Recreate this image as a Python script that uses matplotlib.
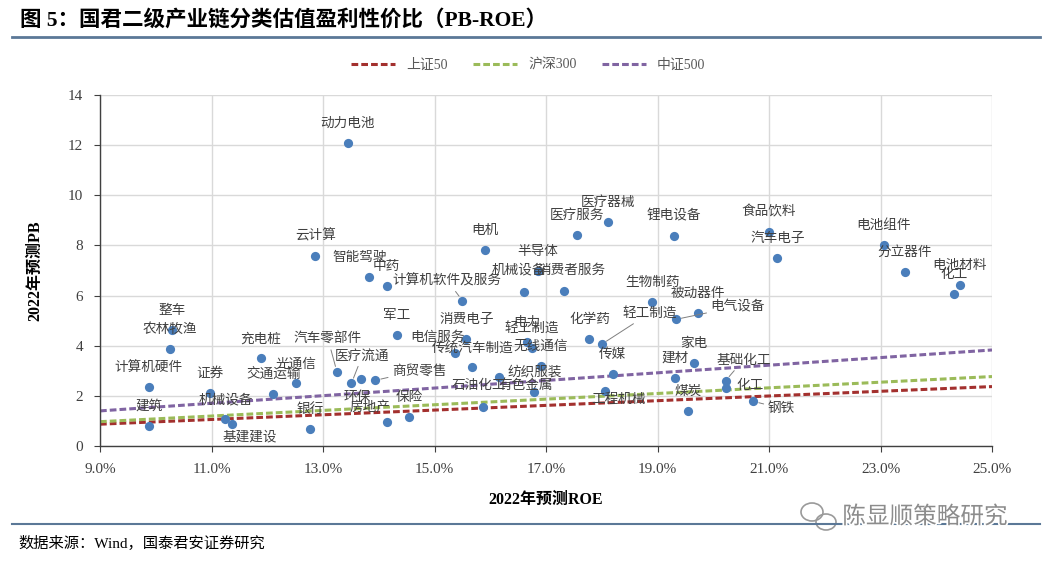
import matplotlib
matplotlib.use("Agg")
import numpy as np
import matplotlib.pyplot as plt
from matplotlib.ticker import FuncFormatter, MultipleLocator
from matplotlib.patches import Ellipse
from matplotlib.lines import Line2D
import matplotlib.patheffects as pe

plt.rcParams['font.family'] = ['Noto Sans CJK SC', 'DejaVu Sans']

# 行业名称 / 2022年预测ROE(%) / 2022年预测PB
names = ["动力电池", "整车", "农林牧渔", "计算机硬件", "建筑", "证券", "机械设备", "基建建设",
         "充电桩", "交通运输", "光通信", "银行", "汽车零部件", "医疗流通", "环保", "商贸零售",
         "房地产", "中药", "军工", "保险", "云计算", "智能驾驶", "计算机软件及服务", "电机",
         "消费电子", "电信服务", "传统汽车制造", "石油化工", "有色金属", "电力", "轻工制造",
         "无线通信", "纺织服装", "机械设备", "半导体", "消费者服务", "医疗服务", "医疗器械",
         "化学药", "轻工制造", "传媒", "工程机械", "生物制药", "锂电设备", "电气设备", "被动器件",
         "家电", "建材", "煤炭", "基础化工", "化工", "钢铁", "食品饮料", "汽车电子", "电池组件",
         "分立器件", "电池材料", "化工"]
roe = [13.44, 10.30, 10.26, 9.87, 9.88, 10.98, 11.25, 11.36, 11.89, 12.11, 12.52, 12.77,
       13.25, 13.51, 13.69, 13.94, 14.14, 14.14, 14.32, 14.55, 12.86, 13.82, 15.50, 15.90,
       15.57, 15.36, 15.68, 15.87, 16.16, 16.66, 16.74, 16.91, 16.79, 16.60, 16.85, 17.32,
       17.55, 18.11, 17.78, 18.00, 18.20, 18.05, 18.91, 19.29, 19.33, 19.72, 19.66, 19.32,
       19.55, 20.22, 20.22, 20.72, 21.00, 21.15, 23.06, 23.44, 24.42, 24.32]
pb = [12.09, 4.63, 3.87, 2.35, 0.81, 2.11, 1.06, 0.88, 3.50, 2.09, 2.50, 0.69,
      2.96, 2.50, 2.67, 2.62, 0.96, 6.37, 4.43, 1.14, 7.59, 6.75, 5.80, 7.82,
      4.26, 3.72, 3.14, 1.57, 2.76, 4.14, 3.90, 3.19, 2.17, 6.15, 6.98, 6.18,
      8.42, 8.95, 4.28, 4.06, 2.87, 2.21, 5.73, 8.38, 5.05, 5.32, 3.30, 2.72,
      1.40, 2.60, 2.30, 1.78, 8.55, 7.51, 8.02, 6.95, 6.43, 6.06]

# 指数参考线 (ROE两端点对应的PB)
index_names = ["上证50", "沪深300", "中证500"]
line_roe = [9.0, 25.0]
sz50_pb = [0.87, 2.37]
hs300_pb = [0.97, 2.77]
zz500_pb = [1.40, 3.83]

x_ticks = [9, 11, 13, 15, 17, 19, 21, 23, 25]

# 标签偏移 (像素), 未列出的默认放在点上方
label_offsets = {7: (18, -13), 12: (-9, 33), 13: (11, 28), 14: (-4, -18), 15: (44, 10),
                 16: (-17, 14), 21: (-9, 20), 22: (-15, 20), 25: (-17, 16), 27: (-4, 22),
                 28: (27, -8), 33: (-5, 22), 35: (8, 21), 39: (48, 31), 41: (14, -8),
                 44: (62, 13), 49: (18, 21), 50: (25, 3), 51: (28, -7)}
leader = {12, 13, 15, 22, 39, 44, 49, 51}

serif_cjk = ['Liberation Serif', 'Noto Sans CJK SC']
frame_col = "#5B7897"
txt_col = "#404040"

fig = plt.figure(figsize=(10.51, 5.64), dpi=100)
ax = fig.add_axes([100 / 1051, 1 - 446 / 564, 892 / 1051, 351 / 564])

line_cols = ["#A3302E", "#9BBB59", "#8064A2"]
for nm, ys, c in zip(index_names, [sz50_pb, hs300_pb, zz500_pb], line_cols):
    ax.plot(line_roe, ys, color=c, lw=2.2, dashes=(2.2, 1.0), zorder=2, label=nm)

ax.scatter(roe, pb, s=44, color="#4A7EBB", zorder=3, linewidths=0)

for i, (nm, x, y) in enumerate(zip(names, roe, pb)):
    dx, dy = label_offsets.get(i, (0, 20))
    kw = {}
    if i in leader:
        kw["arrowprops"] = dict(arrowstyle="-", color="#7F7F7F", lw=0.7, shrinkA=1, shrinkB=4)
    ax.annotate(nm, (x, y), xytext=(dx, dy), textcoords="offset pixels",
                ha="center", va="center", fontsize=9.8, color=txt_col, zorder=4, **kw)

ax.set_xlim(9, 25)
ax.set_ylim(0, 14)
ax.set_xticks(x_ticks)
ax.yaxis.set_major_locator(MultipleLocator(2))
ax.xaxis.set_major_formatter(FuncFormatter(lambda v, p: f"{v:.1f}%"))
ax.yaxis.set_major_formatter(FuncFormatter(lambda v, p: f"{v:.0f}"))
ax.grid(True, color="#D9D9D9", lw=1.0)
ax.set_axisbelow(True)
for s in ["top", "right"]:
    ax.spines[s].set_visible(False)
for s in ["left", "bottom"]:
    ax.spines[s].set_color("#404040")
    ax.spines[s].set_linewidth(1.0)
ax.tick_params(direction="out", length=4, color="#404040", labelcolor=txt_col, pad=8)
for lab in ax.get_xticklabels() + ax.get_yticklabels():
    lab.set_fontfamily(serif_cjk)
    lab.set_fontsize(11)

ax.set_xlabel("2022年预测ROE", fontsize=11.5, fontweight="bold", family=serif_cjk,
              color="#000000", labelpad=12)
ax.set_ylabel("2022年预测PB", fontsize=11.5, fontweight="bold", family=serif_cjk,
              color="#000000", labelpad=18)

leg = fig.legend(loc="center", bbox_to_anchor=(528 / 1051, 1 - 65 / 564), ncol=3,
                 frameon=False, handlelength=3.2, columnspacing=1.8,
                 prop={"family": serif_cjk, "size": 10})
for t in leg.get_texts():
    t.set_color("#595959")

# 标题与边框线
fig.text(20 / 1051, 1 - 20 / 564, "图 5：国君二级产业链分类估值盈利性价比（PB-ROE）",
         fontsize=15.5, fontweight="bold", family=['Liberation Serif', 'Noto Sans CJK SC'],
         va="center", ha="left", color="#000000")
fig.add_artist(Line2D([12 / 1051, 1040 / 1051], [1 - 37 / 564] * 2, color=frame_col, lw=2))
fig.add_artist(Line2D([12 / 1051, 1040 / 1051], [1 - 524 / 564] * 2, color=frame_col, lw=1.5))
fig.text(18 / 1051, 1 - 543 / 564, "数据来源：Wind，国泰君安证券研究", fontsize=11,
         family=serif_cjk, va="center", ha="left", color="#000000")

# 水印
fig.add_artist(Ellipse((812 / 1051, 1 - 512 / 564), 22 / 1051, 18 / 564, fill=False,
                       ec="#9A9A9A", lw=1.2))
fig.add_artist(Ellipse((826 / 1051, 1 - 522 / 564), 20 / 1051, 16 / 564, fill=False,
                       ec="#9A9A9A", lw=1.2))
fig.text(925 / 1051, 1 - 517 / 564, "陈显顺策略研究", fontsize=17, color="#8C8C8C",
         va="center", ha="center",
         path_effects=[pe.withStroke(linewidth=2.5, foreground="white")])

fig.savefig("out.png", dpi=100)
